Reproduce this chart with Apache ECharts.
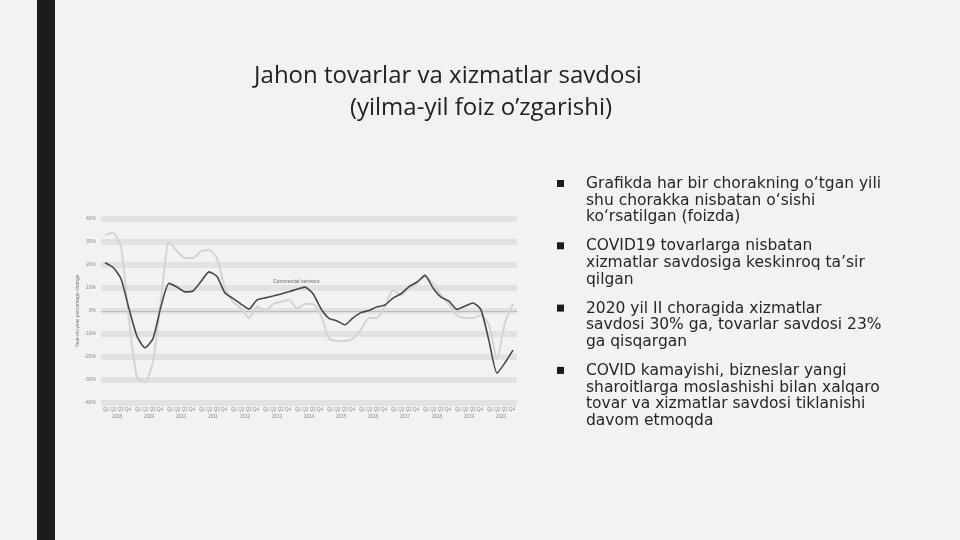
<!DOCTYPE html>
<html><head><meta charset="utf-8">
<script src="https://cdn.jsdelivr.net/npm/echarts@6/dist/echarts.min.js"></script>
<style>html,body{margin:0;padding:0;background:#f2f2f2;}#c{width:960px;height:540px;}</style>
</head><body><div id="c"></div>
<script>
// ---- data ----
const quarters = [];
const years = ['2008','2009','2010','2011','2012','2013','2014','2015','2016','2017','2018','2019','2020'];
years.forEach(y => ['Q1','Q2','Q3','Q4'].forEach(q => quarters.push(y + q)));
const commercialServices = [21, 19, 14, 1, -11, -16, -12, 2, 12, 10.4, 8.3, 8.7, 12.8, 17, 15, 7.8, 5.5, 3, 0.8, 4.8, 5.7, 6.5, 7.4, 8.4, 9.5, 10.4, 7.5, 1, -3.2, -4.3, -6, -3, -0.7, 0.2, 1.8, 2.6, 5.6, 7.5, 10.6, 12.6, 15.5, 10, 6, 4.3, 0.7, 2.1, 3.5, 0.5, -13, -27, -22.5, -17];
const merchandise = [33, 34, 28, -4, -29, -31, -22, 5, 30, 26, 23, 23, 26, 26.5, 23, 10, 4, 1, -3, 2, 0, 3, 4, 5, 1, 3, 3, -2, -12, -13, -13, -12, -8, -3, -3, 2, 9, 7, 10, 12, 15, 12, 7, 3, -2, -3, -3, -2, -6, -21, -5, 3];
const yTicks = [-40, 40, 10];
const titleLines = ['Jahon tovarlar va xizmatlar savdosi', '(yilma-yil foiz o’zgarishi)'];
const bullets = [
  ['Grafikda har bir chorakning o‘tgan yili', 'shu chorakka nisbatan o‘sishi', 'ko‘rsatilgan (foizda)'],
  ['COVID19 tovarlarga nisbatan', 'xizmatlar savdosiga keskinroq ta’sir', 'qilgan'],
  ['2020 yil II choragida xizmatlar', 'savdosi 30% ga, tovarlar savdosi 23%', 'ga qisqargan'],
  ['COVID kamayishi, biznеslar yangi', 'sharoitlarga moslashishi bilan xalqaro', 'tovar va xizmatlar savdosi tiklanishi', 'davom etmoqda']
];

// ---- chart ----
const chart = echarts.init(document.getElementById('c'));
const graphics = [
  {type:'rect', shape:{x:37, y:0, width:18, height:540}, style:{fill:'#1c1c1c'}, silent:true},
  {type:'text', x:448, y:76, style:{text:titleLines[0], font:'24px "Open Sans"', fill:'#222', align:'center', verticalAlign:'middle'}},
  {type:'text', x:481, y:108, style:{text:titleLines[1], font:'24px "Open Sans"', fill:'#222', align:'center', verticalAlign:'middle'}},
  {type:'text', x:273, y:282, style:{text:'Commercial services', font:'5px "Liberation Sans"', fill:'#666', verticalAlign:'middle'}}
];
let yy = 184;
bullets.forEach((b, bi) => {
  graphics.push({type:'rect', shape:{x:557, y:yy-4, width:7, height:7}, style:{fill:'#1a1a1a'}});
  b.forEach((line, li) => {
    graphics.push({type:'text', x:586, y:yy + li*16.6, style:{text:line, font:'15.5px "DejaVu Sans"', fill:'#262626', verticalAlign:'middle'}});
  });
  yy += b.length*16.6 + 12.5;
});

chart.setOption({
  backgroundColor:'#f2f2f2',
  animation:false,
  graphic: graphics,
  grid:{left:101, right:443, top:219, bottom:137},
  xAxis:[
    {type:'category', data:quarters, boundaryGap:true, axisLine:{lineStyle:{color:'#bdbdbd'}}, axisTick:{show:false}, axisLabel:{show:false}},
    {type:'category', data:years, position:'bottom', boundaryGap:true, axisLine:{show:false}, axisTick:{show:false},
     axisLabel:{interval:0, fontSize:4.5, color:'#888', lineHeight:7, margin:3, formatter: v => 'Q1 Q2 Q3 Q4\n' + v}}
  ],
  yAxis:{type:'value', min:yTicks[0], max:yTicks[1], interval:yTicks[2],
    name:'Year-on-year percentage change', nameLocation:'middle', nameRotate:90, nameGap:17,
    nameTextStyle:{fontSize:5, color:'#777'},
    axisLabel:{fontSize:5, color:'#888', margin:5, formatter: v => v + '%'},
    axisLine:{show:false}, axisTick:{show:false},
    splitLine:{lineStyle:{color:'#e2e2e2', width:6}}},
  series:[
    {name:'Merchandise', type:'line', data:merchandise, xAxisIndex:0, showSymbol:false, smooth:0.2,
     lineStyle:{color:'#d4d4d4', width:2}},
    {name:'Commercial services', type:'line', data:commercialServices, xAxisIndex:0, showSymbol:false, smooth:0.2,
     lineStyle:{color:'#474747', width:1.6}}
  ]
});
</script>
</body></html>
